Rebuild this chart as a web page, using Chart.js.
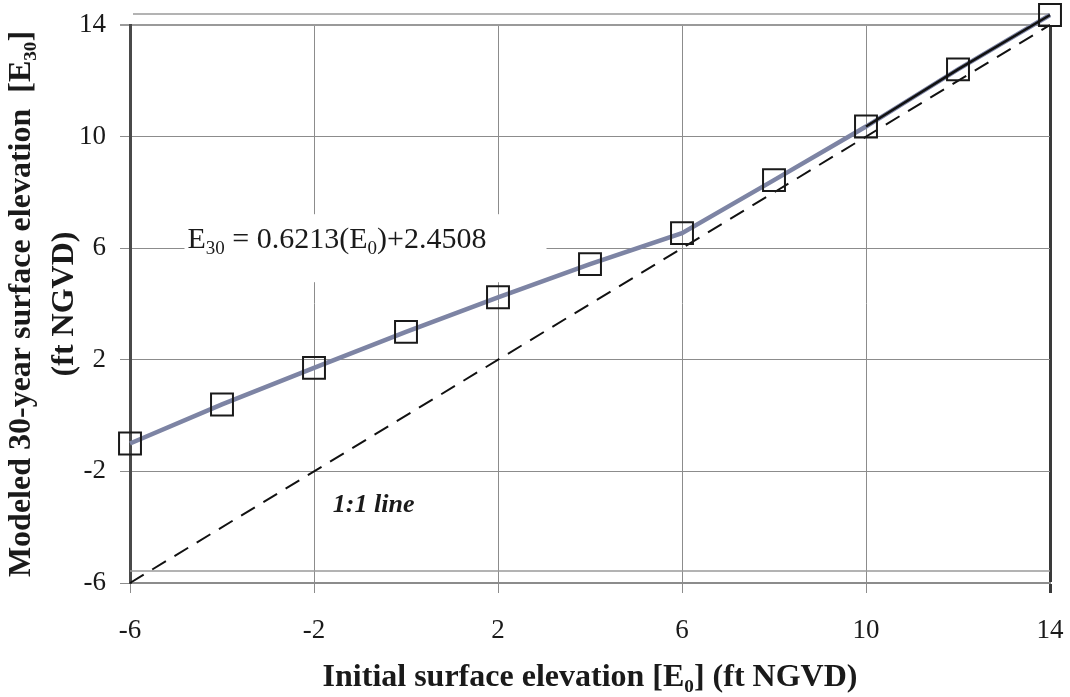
<!DOCTYPE html>
<html>
<head>
<meta charset="utf-8">
<script src="https://cdn.jsdelivr.net/npm/chart.js@4.4.1/dist/chart.umd.min.js"></script>
<style>
  html, body { margin: 0; padding: 0; background: #ffffff; }
  #wrap { width: 1070px; height: 697px; position: relative; }
</style>
</head>
<body>
<div id="wrap"><canvas id="c" width="1070" height="697"></canvas></div>
<script>
// ---- data ----
const initialElev = [-6, -4, -2, 0, 2, 4, 6, 8, 10, 12, 14];
const modeled30 = [-1.0, 0.4, 1.71, 3.0, 4.24, 5.43, 6.54, 8.44, 10.36, 12.41, 14.36];
const overlayX = [10, 12, 14];
const overlayY = [10.36, 12.41, 14.36];
const oneToOneX = [-6, 14];
const oneToOneY = [-6, 14];
const axisTicks = [-6, -2, 2, 6, 10, 14];
const xTitle = 'Initial surface elevation [E\u2080] (ft NGVD)';
const yTitle = ['Modeled 30-year surface elevation  [E\u2083\u2080]', '(ft NGVD)'];
const eqLabel = { x: -4.75, y: 6, parts: [['E', 0], ['30', 1], [' = 0.6213(E', 0], ['0', 1], [')+2.4508', 0]] };
const lineLabel = { x: -1.59, y: -3.46, text: '1:1 line' };

const SERIF = "'Liberation Serif', 'Times New Roman', serif";

const toPts = (xs, ys) => xs.map((x, i) => ({ x: x, y: ys[i] }));

const annotations = {
  id: 'annotations',
  beforeDatasetsDraw(chart) {
    const ctx = chart.ctx;
    const xs = chart.scales.x, ys = chart.scales.y;
    const ca = chart.chartArea;
    ctx.save();
    // outer frame lines (scanned Excel look)
    ctx.strokeStyle = '#9a9a9a';
    ctx.lineWidth = 1.5;
    ctx.beginPath();
    ctx.moveTo(ca.left + 3, ca.top - 11);
    ctx.lineTo(ca.right, ca.top - 11);
    ctx.moveTo(ca.left, ca.bottom - 12);
    ctx.lineTo(ca.right, ca.bottom - 12);
    ctx.stroke();

    // equation label with white backing box
    const ex = xs.getPixelForValue(eqLabel.x);
    const ey = ys.getPixelForValue(eqLabel.y);
    ctx.fillStyle = '#ffffff';
    ctx.fillRect(ex - 3, ey - 34, 362, 68);
    ctx.fillStyle = '#1a1a1a';
    ctx.textBaseline = 'alphabetic';
    ctx.textAlign = 'left';
    let cx = ex;
    eqLabel.parts.forEach(([t, sub]) => {
      ctx.font = (sub ? '19px ' : '30px ') + SERIF;
      ctx.fillText(t, cx, ey + (sub ? 6 : 0));
      cx += ctx.measureText(t).width;
    });

    // 1:1 line label
    ctx.font = 'italic bold 26px ' + SERIF;
    ctx.fillText(lineLabel.text, xs.getPixelForValue(lineLabel.x), ys.getPixelForValue(lineLabel.y));
    ctx.restore();
  }
};

new Chart(document.getElementById('c'), {
  type: 'scatter',
  data: {
    datasets: [
      {
        label: 'Modeled',
        data: toPts(initialElev, modeled30),
        showLine: true,
        borderColor: '#7d84a4',
        borderWidth: 4.5,
        tension: 0,
        pointStyle: 'rect',
        pointRadius: 15.5,
        pointHoverRadius: 15.5,
        pointBorderWidth: 2,
        pointBorderColor: '#1a1a1a',
        pointBackgroundColor: 'rgba(0,0,0,0)',
        clip: false,
        order: 2
      },
      {
        label: 'overlay',
        data: toPts(overlayX, overlayY),
        showLine: true,
        borderColor: '#111111',
        borderWidth: 2.5,
        pointRadius: 0,
        clip: false,
        order: 1
      },
      {
        label: '1:1 line',
        data: toPts(oneToOneX, oneToOneY),
        showLine: true,
        borderColor: '#111111',
        borderWidth: 2,
        borderDash: [16, 10],
        pointRadius: 0,
        clip: false,
        order: 3
      }
    ]
  },
  options: {
    responsive: false,
    animation: false,
    devicePixelRatio: 1,
    layout: { autoPadding: false, padding: { top: 25, right: 20, left: 0, bottom: 0 } },
    plugins: { legend: { display: false }, tooltip: { enabled: false } },
    scales: {
      x: {
        type: 'linear',
        min: -6, max: 14,
        afterBuildTicks: (s) => { s.ticks = axisTicks.map(v => ({ value: v })); },
        afterFit: (s) => { s.height = 114; s.paddingLeft = 0; s.paddingRight = 0; },
        ticks: { color: '#1a1a1a', font: { family: SERIF, size: 27 }, padding: 22, maxRotation: 0 },
        grid: {
          color: (c) => c.tick && c.tick.value === 14 ? '#3a3a3a' : '#8c8c8c',
          lineWidth: (c) => c.tick && c.tick.value === 14 ? 3 : 1,
          tickLength: 10
        },
        border: { display: true, color: '#8c8c8c', width: 2 },
        title: {
          display: true, text: xTitle, color: '#1a1a1a',
          font: { family: SERIF, size: 32, weight: 'bold', lineHeight: 1.2 },
          padding: { top: 0, bottom: 0 }
        }
      },
      y: {
        type: 'linear',
        min: -6, max: 14,
        afterBuildTicks: (s) => { s.ticks = axisTicks.map(v => ({ value: v })); },
        afterFit: (s) => { s.width = 130; s.paddingTop = 0; s.paddingBottom = 0; },
        ticks: { color: '#1a1a1a', font: { family: SERIF, size: 27 }, padding: 14 },
        grid: {
          color: (c) => c.tick && c.tick.value === 14 ? '#9a9a9a' : '#8c8c8c',
          lineWidth: (c) => c.tick && c.tick.value === 14 ? 2 : 1,
          tickLength: 10
        },
        border: { display: true, color: '#4a4a4a', width: 3 },
        title: {
          display: true, text: yTitle, color: '#1a1a1a',
          font: { family: SERIF, size: 32, weight: 'bold', lineHeight: 1.34 },
          padding: { top: 0, bottom: 0 }
        }
      }
    }
  },
  plugins: [annotations]
});
</script>
</body>
</html>
